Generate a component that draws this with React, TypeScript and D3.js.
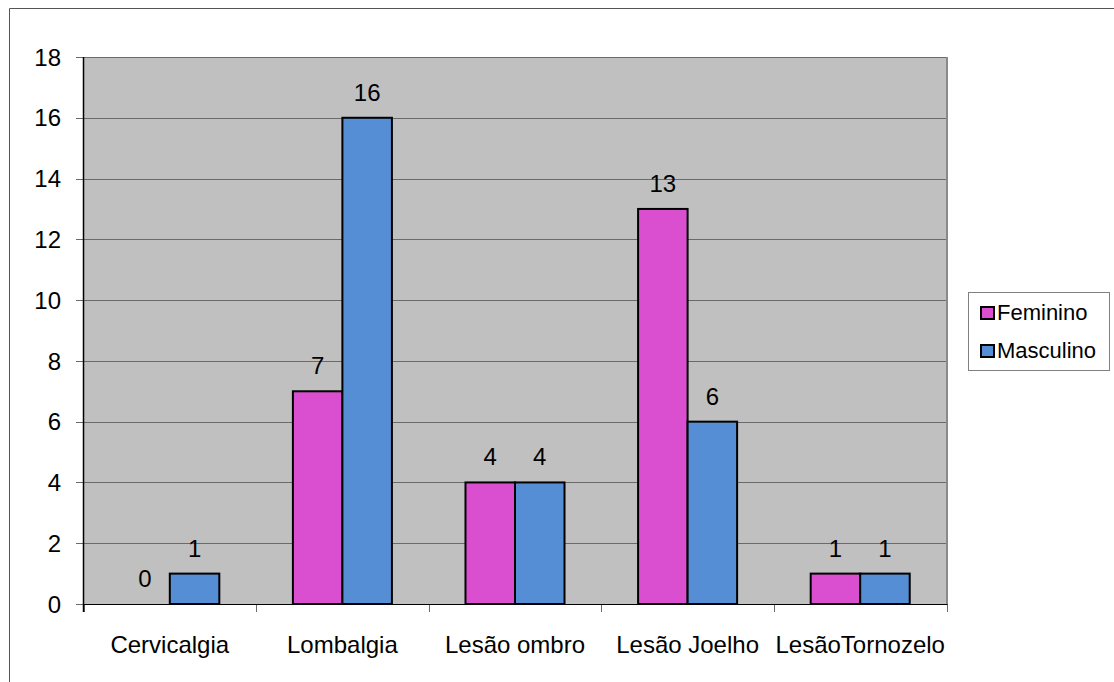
import React from 'react';
import * as d3 from 'd3';

const categories = ['Cervicalgia', 'Lombalgia', 'Lesão ombro', 'Lesão Joelho', 'LesãoTornozelo'];
const seriesNames = ['Feminino', 'Masculino'];
const feminino = [0, 7, 4, 13, 1];
const masculino = [1, 16, 4, 6, 1];
const yTicks = [0, 2, 4, 6, 8, 10, 12, 14, 16, 18];
const colors = ['#D94FCF', '#568ED5'];

const W = 1114;
const H = 682;
const plot = { left: 83.5, right: 946.5, top: 57, bottom: 604 };
const FONT = 'Liberation Sans, Arial, sans-serif';

export default function App() {
  const values = [feminino, masculino];
  const x0 = d3.scaleBand<string>().domain(categories).range([plot.left, plot.right]).paddingInner(0).paddingOuter(0);
  const x1 = d3.scaleBand<string>().domain(seriesNames).range([0, x0.bandwidth()]).paddingInner(0).paddingOuter(0.743);
  const y = d3.scaleLinear().domain([0, 18]).range([plot.bottom, plot.top]);

  return (
    <svg width={W} height={H} style={{ position: 'absolute', left: 0, top: 0, background: '#fff' }} fontFamily={FONT}>
      {/* outer frame */}
      <path d={`M9.5,${H} V8.5 H${W}`} fill="none" stroke="#555" strokeWidth={1} />
      {/* plot area */}
      <rect x={plot.left} y={plot.top} width={plot.right - plot.left} height={plot.bottom - plot.top} fill="#C0C0C0" />
      {/* gridlines */}
      {yTicks.map((t) => (
        <line key={'g' + t} x1={plot.left} x2={plot.right} y1={Math.round(y(t)) + 0.5} y2={Math.round(y(t)) + 0.5} stroke="#6a6a6a" strokeWidth={1} />
      ))}
      {/* right border */}
      <line x1={plot.right + 0.5} x2={plot.right + 0.5} y1={plot.top} y2={plot.bottom} stroke="#8a8a8a" strokeWidth={2} />
      {/* y ticks & labels */}
      {yTicks.map((t) => (
        <g key={'t' + t}>
          <line x1={76} x2={plot.left} y1={Math.round(y(t)) + 0.5} y2={Math.round(y(t)) + 0.5} stroke="#6a6a6a" strokeWidth={1} />
          <text x={61} y={y(t)} dy="0.36em" textAnchor="end" fontSize={24} fill="#000">{t}</text>
        </g>
      ))}
      {/* x ticks */}
      {categories.map((c, i) => (
        <line key={'xt' + i} x1={Math.round(x0(c)!) + 0.5} x2={Math.round(x0(c)!) + 0.5} y1={plot.bottom} y2={612} stroke="#6a6a6a" strokeWidth={1} />
      ))}
      <line x1={Math.round(plot.right) + 0.5} x2={Math.round(plot.right) + 0.5} y1={plot.bottom} y2={612} stroke="#6a6a6a" strokeWidth={1} />
      {/* bars */}
      {categories.map((c, i) => (
        <g key={'b' + i}>
          {seriesNames.map((s, j) => {
            const v = values[j][i];
            const bx = x0(c)! + x1(s)!;
            const by = y(v);
            return (
              <g key={s}>
                {v > 0 && (
                  <rect x={bx} y={by} width={x1.bandwidth()} height={y(0) - by} fill={colors[j]} stroke="#000" strokeWidth={2} />
                )}
                <text x={bx + x1.bandwidth() / 2} y={by - 17} textAnchor="middle" fontSize={24} fill="#000">{v}</text>
              </g>
            );
          })}
        </g>
      ))}
      {/* axes lines */}
      <line x1={plot.left} x2={plot.left} y1={plot.top} y2={612} stroke="#000" strokeWidth={1.5} />
      <line x1={plot.left} x2={plot.right + 1} y1={plot.bottom + 0.5} y2={plot.bottom + 0.5} stroke="#000" strokeWidth={1} />
      {/* category labels */}
      {categories.map((c, i) => (
        <text key={'c' + i} x={x0(c)! + x0.bandwidth() / 2} y={653} textAnchor="middle" fontSize={24} fill="#000">{c}</text>
      ))}
      {/* legend */}
      <rect x={968.5} y={292.5} width={141} height={78} fill="#fff" stroke="#808080" strokeWidth={1} />
      {seriesNames.map((s, j) => (
        <g key={'l' + s}>
          <rect x={981} y={307 + j * 38} width={13} height={12} fill={colors[j]} stroke="#000" strokeWidth={2} />
          <text x={997} y={320 + j * 38} fontSize={22} fill="#000">{s}</text>
        </g>
      ))}
    </svg>
  );
}
